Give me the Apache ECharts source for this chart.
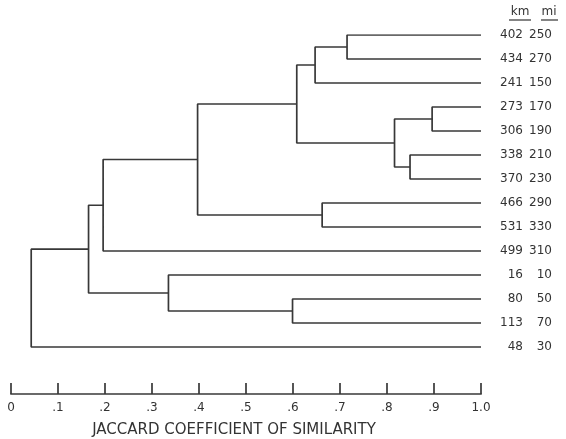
<!DOCTYPE html>
<html><head><meta charset="utf-8">
<script src="https://cdn.jsdelivr.net/npm/echarts@6/dist/echarts.min.js"></script>
<style>html,body{margin:0;padding:0;background:#fff}#c{width:566px;height:439px}</style>
</head><body><div id="c"></div>
<script>
// Leaves (top to bottom)
const leafKm = ['402','434','241','273','306','338','370','466','531','499','16','80','113','48'];
const leafMi = ['250','270','150','170','190','210','230','290','330','310','10','50','70','30'];
// Merges: [childA, childB, similarity]; 'L#' = leaf index, 'N#' = earlier merge
const mergeA = ['L0','N0','L3','L5','N2','N1','L7','N5','N7','L11','L10','N8','N11'];
const mergeB = ['L1','L2','L4','L6','N3','N4','L8','N6','L9','L12','N9','N10','L13'];
const mergeH = [0.715,0.647,0.896,0.849,0.816,0.608,0.662,0.397,0.196,0.599,0.335,0.165,0.043];
const xTicks = ['0','.1','.2','.3','.4','.5','.6','.7','.8','.9','1.0'];

const nodes = [];
function info(ref){
  const i = +ref.slice(1);
  if (ref[0]==='L') return {x:1.0, y:i};
  return nodes[i];
}
const segs = [];
for (let k=0;k<mergeH.length;k++){
  const a = info(mergeA[k]), b = info(mergeB[k]), h = mergeH[k];
  segs.push([a.x,a.y],[h,a.y],[h,b.y],[b.x,b.y],'-');
  nodes.push({x:h, y:(a.y+b.y)/2});
}
const C = '#383838';
const chart = echarts.init(document.getElementById('c'));
chart.setOption({
  animation:false,
  grid:{left:11,right:85,top:35,bottom:45},
  xAxis:{type:'value',min:0,max:1,interval:0.1,position:'bottom',
    axisLine:{show:true,onZero:false,lineStyle:{color:C,width:1.7}},
    axisTick:{show:true,inside:true,length:11,lineStyle:{color:C,width:1.7}},
    axisLabel:{margin:8,color:'#333',fontFamily:'DejaVu Sans',fontSize:12,
      formatter:v=>xTicks[Math.round(v*10)]},
    splitLine:{show:false}},
  yAxis:{type:'value',inverse:true,min:0,max:359/24,interval:1,position:'right',
    axisLine:{show:false},axisTick:{show:false},splitLine:{show:false},
    axisLabel:{margin:12,color:'#333',fontFamily:'DejaVu Sans',fontSize:12,showMaxLabel:false,
      formatter:v=>{const i=Math.round(v); if(i<0||i>=leafKm.length) return ''; return '{k|'+leafKm[i]+'}{m|'+leafMi[i]+'}';},
      rich:{k:{width:30,align:'right',fontFamily:'DejaVu Sans',fontSize:12,color:'#333'},
            m:{width:29,align:'right',fontFamily:'DejaVu Sans',fontSize:12,color:'#333'}}}},
  series:[{type:'line',data:segs,symbol:'none',connectNulls:false,
    lineStyle:{color:C,width:1.7},silent:true}],
  graphic:[
    {type:'text',style:{text:'JACCARD COEFFICIENT OF SIMILARITY',x:234,y:430,
      align:'center',verticalAlign:'middle',font:'15px "DejaVu Sans"',fill:'#333'}},
    {type:'text',style:{text:'km',x:520,y:12,align:'center',verticalAlign:'middle',font:'12px "DejaVu Sans"',fill:'#333'}},
    {type:'text',style:{text:'mi',x:549,y:12,align:'center',verticalAlign:'middle',font:'12px "DejaVu Sans"',fill:'#333'}},
    {type:'line',shape:{x1:509,y1:20,x2:531,y2:20},style:{stroke:'#333',lineWidth:1.2}},
    {type:'line',shape:{x1:541,y1:20,x2:558,y2:20},style:{stroke:'#333',lineWidth:1.2}}
  ]
});
</script></body></html>
